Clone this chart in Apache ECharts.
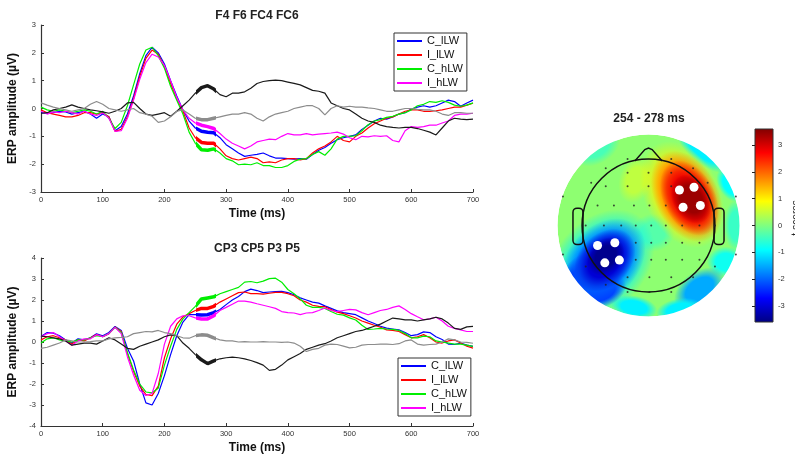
<!DOCTYPE html>
<html>
<head>
<meta charset="utf-8">
<script src="https://cdn.jsdelivr.net/npm/echarts@6/dist/echarts.min.js"></script>
<style>
  html, body { margin: 0; padding: 0; background: #fff; }
  #chart { width: 795px; height: 457px; }
</style>
</head>
<body>
<div id="chart"></div>
<script>
// time axis, 10 ms steps 0..700
const time = Array.from({ length: 71 }, (_, i) => i * 10);
const legendNames = ['C_lLW', 'I_lLW', 'C_hLW', 'I_hLW'];

// F4 F6 FC4 FC6
const topBlue = [
  -0.15,-0.18,-0.15,-0.10,-0.12,-0.20,-0.15,-0.10,-0.20,-0.35,
  -0.20,-0.30,-0.80,-0.65,-0.20,0.45,1.25,1.90,2.20,2.00,
  1.60,1.00,0.45,-0.05,-0.45,-0.70,-0.82,-0.85,-0.87,-1.05,
  -1.30,-1.45,-1.60,-1.72,-1.68,-1.65,-1.60,-1.70,-1.78,-1.78,
  -1.80,-1.82,-1.80,-1.82,-1.65,-1.50,-1.40,-1.25,-1.12,-1.05,
  -1.00,-0.95,-0.75,-0.60,-0.45,-0.35,-0.38,-0.30,-0.20,-0.15,
  -0.02,0.05,0.10,0.05,0.10,0.20,0.30,0.25,0.08,0.20,
  0.30];
const topRed = [
  -0.05,-0.15,-0.20,-0.25,-0.30,-0.30,-0.25,-0.15,-0.15,-0.20,
  -0.15,-0.30,-0.82,-0.75,-0.30,0.35,1.15,1.80,2.10,1.95,
  1.50,0.90,0.35,-0.10,-0.70,-1.05,-1.22,-1.25,-1.25,-1.45,
  -1.70,-1.80,-1.85,-1.80,-1.75,-1.80,-1.95,-1.92,-1.95,-1.85,
  -1.80,-1.80,-1.85,-1.80,-1.60,-1.45,-1.35,-1.20,-1.00,-1.15,
  -1.20,-1.00,-0.88,-0.70,-0.55,-0.45,-0.35,-0.30,-0.20,-0.10,
  -0.05,-0.05,-0.10,-0.10,-0.08,-0.05,0.00,0.05,0.05,0.12,
  0.19];
const topGreen = [
  0.05,-0.05,-0.10,-0.05,-0.10,-0.15,-0.10,-0.05,-0.10,-0.20,
  -0.10,-0.35,-0.72,-0.50,0.10,0.85,1.60,2.10,2.20,1.90,
  1.45,0.80,0.30,-0.20,-0.85,-1.25,-1.48,-1.50,-1.45,-1.60,
  -1.80,-1.88,-2.02,-2.00,-2.02,-1.95,-2.05,-2.05,-2.12,-2.12,
  -2.05,-1.90,-1.82,-1.80,-1.65,-1.55,-1.68,-1.45,-1.10,-1.00,
  -1.00,-0.98,-0.80,-0.58,-0.45,-0.40,-0.32,-0.28,-0.20,-0.15,
  -0.05,0.10,0.15,0.25,0.22,0.28,0.22,0.12,0.08,0.12,
  0.20];
const topMagenta = [
  -0.10,-0.20,-0.12,-0.15,-0.10,-0.15,-0.20,-0.10,-0.20,-0.25,
  -0.15,-0.35,-0.82,-0.80,-0.35,0.30,1.05,1.65,1.95,1.85,
  1.55,1.00,0.40,-0.05,-0.35,-0.52,-0.60,-0.65,-0.72,-0.90,
  -1.10,-1.25,-1.35,-1.45,-1.35,-1.20,-1.15,-1.10,-1.12,-1.00,
  -0.90,-0.95,-0.95,-0.90,-0.95,-0.92,-0.90,-0.88,-0.85,-0.92,
  -1.05,-1.12,-1.00,-1.02,-0.98,-1.00,-0.98,-1.15,-1.20,-0.80,
  -0.65,-0.68,-0.65,-0.60,-0.60,-0.52,-0.45,-0.25,-0.20,-0.20,
  -0.17];
const topBlack = [
  -0.17,-0.15,-0.05,0.00,0.05,0.13,0.05,0.00,-0.05,-0.08,
  -0.12,-0.17,-0.10,0.00,0.20,0.22,0.00,-0.20,-0.25,-0.20,
  -0.15,-0.28,-0.10,0.10,0.30,0.55,0.75,0.82,0.70,0.50,
  0.42,0.55,0.55,0.60,0.73,0.90,0.97,1.00,1.02,1.00,
  0.95,0.90,0.85,0.75,0.65,0.62,0.55,0.20,0.10,0.00,
  -0.05,-0.20,-0.35,-0.45,-0.50,-0.60,-0.65,-0.68,-0.70,-0.68,
  -0.68,-0.72,-0.78,-0.85,-0.95,-0.70,-0.45,-0.35,-0.38,-0.40,
  -0.38];
const topGray = [
  0.20,0.12,0.05,0.00,-0.05,-0.10,-0.05,0.00,0.15,0.25,
  0.15,0.00,-0.05,-0.10,-0.05,0.00,-0.15,-0.20,-0.28,-0.50,
  -0.45,-0.30,-0.10,-0.05,-0.20,-0.35,-0.40,-0.40,-0.35,-0.30,
  -0.25,-0.20,-0.20,-0.15,-0.20,-0.35,-0.45,-0.30,-0.20,-0.15,
  -0.10,0.00,0.05,0.10,0.10,0.00,-0.23,0.00,0.10,0.05,
  0.08,0.05,0.05,0.02,0.00,-0.05,-0.10,-0.10,-0.05,0.00,
  0.00,-0.03,-0.05,-0.05,-0.10,-0.20,-0.25,-0.15,-0.15,-0.17,
  -0.17];

// CP3 CP5 P3 P5
const botBlue = [
  0.26,0.45,0.42,0.30,0.10,-0.05,0.15,0.10,0.20,0.39,
  0.30,0.45,0.74,0.55,-0.30,-0.90,-2.00,-2.90,-3.00,-2.45,
  -1.60,-0.60,0.30,0.95,1.30,1.30,1.28,1.30,1.40,1.55,
  1.78,2.00,2.17,2.40,2.52,2.45,2.35,2.38,2.40,2.41,
  2.35,2.25,2.10,2.00,1.90,1.85,1.72,1.60,1.48,1.40,
  1.35,1.30,1.15,1.00,0.88,0.75,0.66,0.62,0.58,0.45,
  0.30,0.35,0.48,0.45,0.25,0.12,-0.10,-0.12,-0.05,-0.15,
  -0.21];
const botRed = [
  0.10,0.25,0.30,0.20,0.10,-0.10,0.10,0.05,0.20,0.35,
  0.25,0.40,0.71,0.50,-0.55,-1.40,-2.10,-2.50,-2.55,-2.10,
  -0.75,0.15,0.85,1.20,1.35,1.50,1.60,1.60,1.70,1.90,
  2.05,2.20,2.35,2.38,2.30,2.30,2.28,2.32,2.36,2.36,
  2.30,2.20,2.00,1.90,1.75,1.70,1.68,1.55,1.42,1.35,
  1.25,1.14,1.00,0.90,0.80,0.70,0.58,0.55,0.50,0.35,
  0.20,0.25,0.35,0.20,0.00,-0.05,0.05,0.10,-0.05,-0.20,
  -0.29];
const botGreen = [
  -0.05,0.15,0.20,0.10,0.05,0.00,0.10,0.10,0.20,0.30,
  0.25,0.40,0.70,0.45,-0.50,-1.33,-2.00,-2.38,-2.42,-2.20,
  -1.10,-0.20,0.60,1.10,1.40,1.70,2.05,2.10,2.15,2.30,
  2.40,2.50,2.60,2.85,2.88,2.82,2.90,3.02,3.04,2.85,
  2.50,2.30,2.05,1.75,1.65,1.65,1.60,1.45,1.32,1.28,
  1.15,1.05,0.80,0.60,0.62,0.65,0.62,0.60,0.55,0.40,
  0.20,0.20,0.28,0.25,0.05,0.00,-0.05,-0.10,-0.10,-0.15,
  -0.21];
const botMagenta = [
  0.25,0.40,0.45,0.25,0.05,-0.15,0.05,0.15,0.15,0.35,
  0.25,0.40,0.70,0.40,-0.70,-1.57,-2.30,-2.55,-2.45,-1.50,
  -0.10,0.75,1.10,1.25,1.25,1.15,1.10,1.10,1.25,1.50,
  1.65,1.80,1.95,1.95,1.90,1.82,1.75,1.68,1.60,1.45,
  1.40,1.38,1.30,1.38,1.40,1.50,1.62,1.50,1.45,1.50,
  1.55,1.53,1.40,1.30,1.40,1.50,1.55,1.65,1.72,1.55,
  1.35,1.20,1.06,1.10,1.18,1.00,0.75,0.65,0.58,0.50,
  0.50];
const botBlack = [
  0.28,0.25,0.20,0.15,0.05,-0.15,-0.10,-0.05,-0.05,-0.10,
  0.05,0.20,0.10,-0.10,-0.30,-0.35,-0.20,-0.10,0.00,0.10,
  0.25,0.34,0.30,-0.05,-0.30,-0.60,-0.85,-1.03,-0.90,-0.80,
  -0.75,-0.72,-0.75,-0.80,-0.88,-0.98,-1.10,-1.35,-1.30,-1.10,
  -0.85,-0.70,-0.55,-0.35,-0.25,-0.15,-0.08,0.05,0.20,0.30,
  0.40,0.50,0.55,0.65,0.75,0.85,1.00,1.14,1.10,1.05,
  1.05,1.00,1.05,1.10,1.18,1.10,0.90,0.65,0.60,0.72,
  0.74];
const botGray = [
  -0.30,-0.25,-0.15,-0.05,0.10,0.05,0.00,0.00,0.02,0.05,
  0.05,0.15,0.20,0.22,0.25,0.40,0.45,0.50,0.48,0.55,
  0.45,0.40,0.30,0.20,0.18,0.30,0.34,0.32,0.20,0.10,
  0.05,0.05,0.00,0.02,0.00,0.00,0.02,0.00,0.00,-0.02,
  0.00,-0.05,-0.20,-0.45,-0.35,-0.30,-0.15,-0.10,-0.12,-0.20,
  -0.28,-0.25,-0.15,-0.12,-0.12,-0.10,-0.10,-0.12,-0.08,0.05,
  0.10,-0.10,-0.15,-0.12,-0.10,0.00,0.15,0.10,0.00,-0.02,
  -0.06];

// highlighted window (ms)
const win = [254, 278];

// topography: contour patches (head units, radius of disc = 1)
const topoBase = 0.1;
const topoX   = [-0.58, 0.60, 0.90, 0.96, 0.85, 0.56, 0.34, -0.16, 0.05, -0.14, -0.52, -0.70, -0.52, -0.50, -0.48, -0.47, 0.37, 0.42, 0.45, 0.47];
const topoY   = [0.87, 0.84, 0.45, 0.00, -0.40, -0.70, -0.93, -0.90, -0.08, 0.50, -0.42, -0.60, -0.72, -0.40, -0.38, -0.34, 0.34, 0.32, 0.30, 0.29];
const topoVal = [-0.4, -1.0, -0.9, -0.5, -0.8, -1.5, -1.0, -1.0, -0.3, 0.45, -1.0, -2.8, -2.3, -2.0, -3.0, -3.5, 1.0, 2.0, 2.8, 3.4];
const topoRx  = [0.22, 0.28, 0.16, 0.10, 0.16, 0.24, 0.20, 0.20, 0.18, 0.14, 0.52, 0.30, 0.22, 0.42, 0.30, 0.18, 0.48, 0.41, 0.34, 0.22];
const topoRy  = [0.15, 0.12, 0.10, 0.22, 0.13, 0.15, 0.10, 0.10, 0.16, 0.20, 0.38, 0.20, 0.14, 0.30, 0.22, 0.14, 0.32, 0.27, 0.22, 0.16];
const topoAng = [30, -40, -60, 0, 0, 35, 10, -10, 0, -20, 47, 47, 20, 47, 47, 47, -63, -63, -63, -63];

// electrode positions
const eegX = [-0.23,0.25, -0.47,0.49, -0.23,0.00,0.25, -0.63,0.65, -0.47,-0.23,0.00,0.25,0.49,
  -0.94,0.96, -0.56,-0.38,-0.16,0.01,0.19,0.37,0.56,
  -0.69,-0.49,-0.30,-0.14,0.03,0.19,0.37,0.56,0.73,
  -0.56,-0.38,-0.14,0.03,0.19,0.37,0.56, -0.94,0.96,
  -0.47,-0.14,0.03,0.19,0.37,0.56, -0.69,0.73, -0.23,0.01,0.25,0.49, -0.47, -0.23,0.01,0.25];
const eegY = [0.73,0.73, 0.63,0.63, 0.58,0.58,0.58, 0.47,0.47, 0.43,0.43,0.43,0.43,0.43,
  0.32,0.32, 0.22,0.22,0.22,0.22,0.22,0.22,0.22,
  0.00,0.00,0.00,0.00,0.00,0.00,0.00,0.00,0.00,
  -0.19,-0.19,-0.19,-0.19,-0.19,-0.19,-0.19, -0.32,-0.32,
  -0.375,-0.375,-0.375,-0.375,-0.375,-0.375, -0.45,-0.45, -0.57,-0.57,-0.57,-0.57, -0.65, -0.73,-0.73,-0.73];
// selected channels (white markers)
const selX = [0.34, 0.50, 0.38, 0.57, -0.56, -0.37, -0.48, -0.32];
const selY = [0.39, 0.42, 0.20, 0.22, -0.22, -0.19, -0.41, -0.38];

const cbTicks = [-3, -2, -1, 0, 1, 2, 3];
const CMIN = -3.6, CMAX = 3.6;

// ---------- layout ----------
const PL = 41, PW = 432;
const grids = [
  { left: PL, top: 25, width: PW, height: 167 },
  { left: PL, top: 258, width: PW, height: 168 },
  { left: PL + win[0] / 700 * PW, top: 25, width: (win[1] - win[0]) / 700 * PW, height: 167 },
  { left: PL + win[0] / 700 * PW, top: 258, width: (win[1] - win[0]) / 700 * PW, height: 168 },
  { left: 557.5, top: 134.5, width: 182, height: 182 },
  { left: 755, top: 129, width: 18, height: 193, show: true, borderColor: '#333', borderWidth: 1, z: 5,
    backgroundColor: { type: 'linear', x: 0, y: 0, x2: 0, y2: 1, colorStops: [
      { offset: 0, color: '#800000' }, { offset: 0.125, color: '#ff0000' },
      { offset: 0.375, color: '#ffff00' }, { offset: 0.625, color: '#00ffff' },
      { offset: 0.875, color: '#0000ff' }, { offset: 1, color: '#000080' }] } }
].map(g => Object.assign({ outerBoundsMode: 'none', containLabel: false }, g));

const tickFont = { fontSize: 7.5, color: '#333', fontFamily: 'Liberation Sans' };
const nameFont = { fontSize: 12, fontWeight: 'bold', color: '#111', fontFamily: 'Liberation Sans' };

function mainX(gi) {
  return {
    type: 'value', gridIndex: gi, min: 0, max: 700, interval: 100,
    axisLine: { onZero: false, lineStyle: { color: '#333', width: 1.2 } },
    axisTick: { inside: true, length: 3, lineStyle: { color: '#333' } },
    axisLabel: Object.assign({ margin: 4 }, tickFont),
    splitLine: { show: false },
    name: 'Time (ms)', nameLocation: 'middle', nameGap: 16, nameTextStyle: nameFont
  };
}
function mainY(gi, lim) {
  return {
    type: 'value', gridIndex: gi, min: -lim, max: lim, interval: 1,
    axisLine: { show: true, onZero: false, lineStyle: { color: '#333', width: 1.2 } },
    axisTick: { show: true, inside: true, length: 3, lineStyle: { color: '#333' } },
    axisLabel: Object.assign({ margin: 5 }, tickFont),
    splitLine: { show: false },
    name: 'ERP amplitude (\u00b5V)', nameLocation: 'middle', nameGap: 16, nameTextStyle: nameFont
  };
}
function hidden(gi, min, max) {
  return { type: 'value', gridIndex: gi, min: min, max: max, show: false, splitLine: { show: false } };
}

const xAxis = [mainX(0), mainX(1), hidden(2, win[0], win[1]), hidden(3, win[0], win[1]), hidden(4, -1, 1), hidden(5, 0, 1)];
const yAxis = [mainY(0, 3), mainY(1, 4), hidden(2, -3, 3), hidden(3, -4, 4), hidden(4, -1, 1),
  {
    type: 'value', gridIndex: 5, min: CMIN, max: CMAX, position: 'right', z: 5,
    axisLine: { show: false },
    axisTick: { show: true, inside: true, length: 3, customValues: cbTicks, lineStyle: { color: '#222' } },
    axisLabel: Object.assign({ margin: 5, customValues: cbTicks }, tickFont),
    splitLine: { show: false }
  }];

const colors = { blue: '#0000ff', red: '#ff0000', green: '#00ee00', magenta: '#ff00ff', black: '#1a1a1a', gray: '#8c8c8c' };
const panels = [
  [['C_lLW', topBlue, colors.blue], ['I_lLW', topRed, colors.red], ['C_hLW', topGreen, colors.green],
   ['I_hLW', topMagenta, colors.magenta], ['diff_l', topBlack, colors.black], ['diff_h', topGray, colors.gray]],
  [['C_lLW', botBlue, colors.blue], ['I_lLW', botRed, colors.red], ['C_hLW', botGreen, colors.green],
   ['I_hLW', botMagenta, colors.magenta], ['diff_l', botBlack, colors.black], ['diff_h', botGray, colors.gray]]
];

const series = [];
panels.forEach((list, p) => {
  list.forEach(([name, vals, col]) => {
    const data = time.map((t, i) => [t, vals[i]]);
    series.push({ type: 'line', name, xAxisIndex: p, yAxisIndex: p, data, showSymbol: false, symbol: 'none',
      lineStyle: { color: col, width: 1.2 }, itemStyle: { color: col }, silent: true });
    // thick segment for the highlighted window, clipped by its own grid
    series.push({ type: 'line', name, xAxisIndex: p + 2, yAxisIndex: p + 2, data, showSymbol: false, symbol: 'none',
      clip: true, lineStyle: { color: col, width: 3.5 }, itemStyle: { color: col }, silent: true });
  });
});

function jet(v) {
  const t = Math.min(1, Math.max(0, (v - CMIN) / (CMAX - CMIN)));
  const c = k => Math.round(255 * Math.min(1, Math.max(0, 1.5 - Math.abs(4 * t - k))));
  return [c(3), c(2), c(1)].join(',');
}

// disc base
series.push({
  type: 'custom', xAxisIndex: 4, yAxisIndex: 4, z: 1, silent: true,
  data: [[0, 0, topoBase]],
  renderItem: (params, api) => {
    const c = api.coord([0, 0]);
    const R = api.size([1, 1])[0];
    return { type: 'circle', shape: { cx: c[0], cy: c[1], r: R }, style: { fill: 'rgb(' + jet(api.value(2)) + ')' } };
  }
});
// soft contour patches
series.push({
  type: 'custom', xAxisIndex: 4, yAxisIndex: 4, z: 1, silent: true,
  data: topoX.map((x, i) => [x, topoY[i], topoVal[i], topoRx[i], topoRy[i], topoAng[i]]),
  renderItem: (params, api) => {
    const c = api.coord([api.value(0), api.value(1)]);
    const s = api.size([api.value(3), api.value(4)]);
    const rgb = jet(api.value(2));
    const rx = s[0] * 1.3, ry = s[1] * 1.3;
    return {
      type: 'circle', x: c[0], y: c[1], rotation: api.value(5) * Math.PI / 180,
      scaleX: 1, scaleY: ry / rx,
      shape: { cx: 0, cy: 0, r: rx },
      style: { fill: { type: 'radial', x: 0.5, y: 0.5, r: 0.5, colorStops: [
        { offset: 0, color: 'rgba(' + rgb + ',1)' },
        { offset: 0.55, color: 'rgba(' + rgb + ',1)' },
        { offset: 1, color: 'rgba(' + rgb + ',0)' }] } }
    };
  }
});
// mask + head outline
const HEAD_R = 0.73;
series.push({
  type: 'custom', xAxisIndex: 4, yAxisIndex: 4, z: 2, silent: true,
  data: [[0, 0]],
  renderItem: (params, api) => {
    const c = api.coord([0, 0]);
    const R = api.size([1, 1])[0];
    const pt = (x, y) => [c[0] + x * R, c[1] - y * R];
    const line = { fill: 'none', stroke: '#111', lineWidth: 1.5 };
    const ear = sx => {
      const x0 = c[0] + sx * 0.72 * R, x1 = c[0] + sx * 0.83 * R;
      return { type: 'rect', shape: { x: Math.min(x0, x1), y: c[1] - 0.19 * R, width: Math.abs(x1 - x0), height: 0.40 * R, r: 4 }, style: line };
    };
    return {
      type: 'group', children: [
        { type: 'ring', shape: { cx: c[0], cy: c[1], r0: R, r: R + 45 }, style: { fill: '#fff' } },
        { type: 'polyline', shape: { points: [pt(-0.15, 0.71), pt(-0.04, 0.835), pt(0, 0.85), pt(0.04, 0.835), pt(0.15, 0.71)] }, style: line },
        ear(-1), ear(1),
        { type: 'circle', shape: { cx: c[0], cy: c[1], r: HEAD_R * R }, style: line }
      ]
    };
  }
});
series.push({
  type: 'scatter', xAxisIndex: 4, yAxisIndex: 4, z: 3, silent: true, symbolSize: 2,
  itemStyle: { color: '#222' }, data: eegX.map((x, i) => [x, eegY[i]])
});
series.push({
  type: 'scatter', xAxisIndex: 4, yAxisIndex: 4, z: 3, silent: true, symbolSize: 9,
  itemStyle: { color: '#fff', opacity: 1 }, data: selX.map((x, i) => [x, selY[i]])
});

const titleFont = { fontSize: 12, fontWeight: 'bold', color: '#222', fontFamily: 'Liberation Sans' };
const legendBase = {
  data: legendNames.map(n => ({ name: n, icon: 'rect' })),
  orient: 'vertical', itemWidth: 25, itemHeight: 2, itemGap: 2,
  padding: [2, 4, 2, 3], borderColor: '#333', borderWidth: 1, backgroundColor: '#fff',
  textStyle: { fontSize: 11, color: '#111', lineHeight: 12, fontFamily: 'Liberation Sans' },
  selectedMode: false
};

const option = {
  animation: false,
  backgroundColor: '#fff',
  title: [
    { text: 'F4 F6 FC4 FC6', left: 257, top: 10, textAlign: 'center', padding: 0, textStyle: titleFont },
    { text: 'CP3 CP5 P3 P5', left: 257, top: 243, textAlign: 'center', padding: 0, textStyle: titleFont },
    { text: '254 - 278 ms', left: 649, top: 113, textAlign: 'center', padding: 0, textStyle: titleFont }
  ],
  legend: [
    Object.assign({ left: 394, top: 33 }, legendBase),
    Object.assign({ left: 398, top: 358 }, legendBase)
  ],
  grid: grids,
  xAxis: xAxis,
  yAxis: yAxis,
  series: series,
  graphic: [{
    type: 'text', x: 801, y: 218, rotation: Math.PI / 2, z: 10,
    style: { text: 't-scores', fontSize: 10, fill: '#222', textAlign: 'center', textVerticalAlign: 'bottom', fontFamily: 'Liberation Sans' }
  }]
};

const chart = echarts.init(document.getElementById('chart'), null, { renderer: 'canvas' });
chart.setOption(option);
</script>
</body>
</html>
